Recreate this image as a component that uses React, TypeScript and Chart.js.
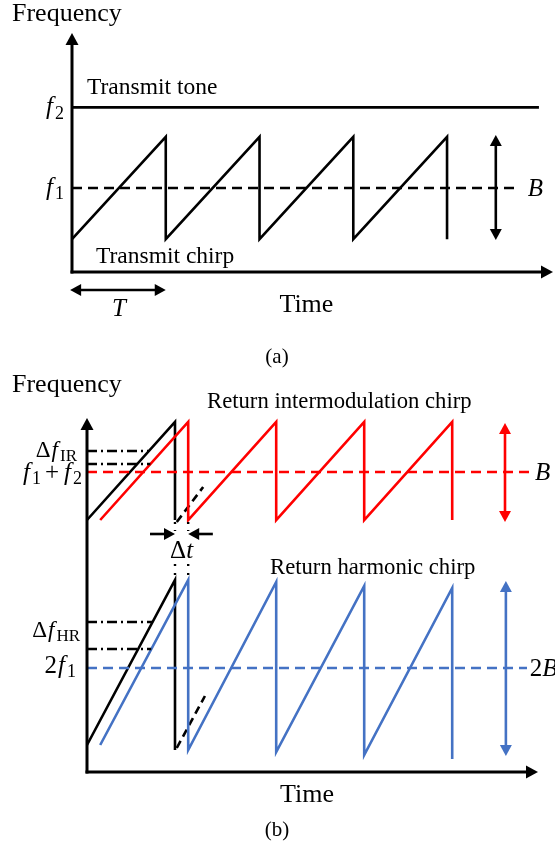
import React, { useEffect, useRef } from "react";
import { Chart, registerables } from "chart.js";
Chart.register(...registerables);

// ---------------- Panel (a) : time in units of T, frequency in units of f1 ----------------
const A_T_MAX = 5.13;
const A_F_MAX = 2.845;
const A_F1 = 1.0;
const A_F2 = 1.96;
const A_TONE_T = [0, 4.98];
const A_CHIRP_T = [0, 1, 1, 2, 2, 3, 3, 4, 4];
const A_CHIRP_F = [0.39, 1.61, 0.39, 1.61, 0.39, 1.61, 0.39, 1.61, 0.39];
const A_F1LINE_T = [0, 4.75];
const A_B_ARROW_T = 4.52;
const A_B_ARROW_F = [0.38, 1.63];
const A_T_ARROW_T = [-0.02, 1.0];
const A_T_ARROW_F = -0.214;

// ---------------- Panel (b) ----------------
const B_T_MAX = 5.125;
const B_F_MAX = 3.54;
// intermodulation part
const B_IM_CENTER = 3.0;
const B_TXU_T = [0, 1, 1];
const B_TXU_F = [2.52, 3.5, 2.52];
const B_TXU_DASH_T = [1.02, 1.32];
const B_TXU_DASH_F = [2.5, 2.85];
const B_IM_T = [0.15, 1.15, 1.15, 2.15, 2.15, 3.15, 3.15, 4.15, 4.15];
const B_IM_F = [2.52, 3.5, 2.52, 3.5, 2.52, 3.5, 2.52, 3.5, 2.52];
const B_IM_LINE_T = [0, 5.03];
const B_IM_ARROW_T = 4.75;
const B_IM_ARROW_F = [2.5, 3.49];
const B_DFIR_F = [3.21, 3.08];
const B_DFIR_T = [0.7, 0.72];
const B_DT_F = 2.38;
const B_DT_LEFT_T = [0.716, 1.0];
const B_DT_RIGHT_T = [1.43, 1.15];
const B_DELAY_T = [1.0, 1.15];
// harmonic part
const B_H_CENTER = 1.04;
const B_TXL_T = [0, 1, 1];
const B_TXL_F = [0.27, 1.92, 0.22];
const B_TXL_DASH_T = [1.02, 1.34];
const B_TXL_DASH_F = [0.24, 0.76];
const B_HR_T = [0.15, 1.15, 1.15, 2.15, 2.15, 3.15, 3.15, 4.15, 4.15];
const B_HR_F = [0.27, 1.92, 0.22, 1.9, 0.2, 1.86, 0.17, 1.84, 0.13];
const B_HR_LINE_T = [0, 5.0];
const B_HR_ARROW_T = 4.76;
const B_HR_ARROW_F = [0.16, 1.91];
const B_DFHR_F = [1.5, 1.23];
const B_DFHR_T = [0.745, 0.73];

const RED = "#ff0000";
const BLUE = "#4472c4";
const SERIF = '"Liberation Serif", "Times New Roman", serif';
const LW = 2.6;

type Part = { t: string; it?: boolean; sub?: boolean; gap?: number; pre?: number };

function rich(ctx: CanvasRenderingContext2D, parts: Part[], x: number, y: number, size: number, align: "left" | "right" | "center", color = "#000") {
  const fontFor = (p: Part) => `${p.it ? "italic " : ""}${p.sub ? Math.round(size * 0.72) : size}px ${SERIF}`;
  const widths = parts.map((p) => {
    ctx.font = fontFor(p);
    return ctx.measureText(p.t).width + (p.gap || 0) + (p.pre || 0);
  });
  const w = widths.reduce((a, b) => a + b, 0);
  let cx = align === "left" ? x : align === "right" ? x - w : x - w / 2;
  ctx.save();
  ctx.fillStyle = color;
  ctx.textBaseline = "alphabetic";
  ctx.textAlign = "left";
  parts.forEach((p, i) => {
    ctx.font = fontFor(p);
    ctx.fillText(p.t, cx + (p.pre || 0), p.sub ? y + size * 0.17 : y);
    cx += widths[i];
  });
  ctx.restore();
}

function text(ctx: CanvasRenderingContext2D, s: string, x: number, y: number, size: number, align: "left" | "center" = "left") {
  rich(ctx, [{ t: s }], x, y, size, align);
}

function arrow(ctx: CanvasRenderingContext2D, x1: number, y1: number, x2: number, y2: number, color: string, lw: number, both: boolean, hl = 12, hw = 6) {
  const a = Math.atan2(y2 - y1, x2 - x1);
  const c = Math.cos(a), s = Math.sin(a);
  const head = (x: number, y: number, cc: number, ss: number) => {
    ctx.beginPath();
    ctx.moveTo(x, y);
    ctx.lineTo(x - hl * cc + hw * ss, y - hl * ss - hw * cc);
    ctx.lineTo(x - hl * cc - hw * ss, y - hl * ss + hw * cc);
    ctx.closePath();
    ctx.fill();
  };
  ctx.save();
  ctx.strokeStyle = color;
  ctx.fillStyle = color;
  ctx.lineWidth = lw;
  ctx.setLineDash([]);
  ctx.beginPath();
  ctx.moveTo(both ? x1 + (hl - 2) * c : x1, both ? y1 + (hl - 2) * s : y1);
  ctx.lineTo(x2 - (hl - 2) * c, y2 - (hl - 2) * s);
  ctx.stroke();
  head(x2, y2, c, s);
  if (both) head(x1, y1, -c, -s);
  ctx.restore();
}

function seg(ctx: CanvasRenderingContext2D, x1: number, y1: number, x2: number, y2: number, dash: number[], lw = 2, color = "#000") {
  ctx.save();
  ctx.strokeStyle = color;
  ctx.lineWidth = lw;
  ctx.setLineDash(dash);
  ctx.beginPath();
  ctx.moveTo(x1, y1);
  ctx.lineTo(x2, y2);
  ctx.stroke();
  ctx.restore();
}

function ds(ts: number[], fs: number[], color: string, width: number, dash: number[] = []) {
  return {
    data: ts.map((t, i) => ({ x: t, y: fs[i] })),
    borderColor: color,
    backgroundColor: color,
    borderWidth: width,
    borderDash: dash,
    pointRadius: 0,
    showLine: true,
    fill: false,
    tension: 0,
    clip: false as any,
    borderCapStyle: "butt" as const,
    borderJoinStyle: "miter" as const,
  };
}

function baseOptions(xMax: number, yMax: number, padding: any) {
  return {
    responsive: false,
    animation: false as const,
    devicePixelRatio: 1,
    events: [] as any[],
    layout: { padding },
    plugins: { legend: { display: false }, tooltip: { enabled: false }, title: { display: false } },
    scales: {
      x: { type: "linear" as const, min: 0, max: xMax, display: false },
      y: { type: "linear" as const, min: 0, max: yMax, display: false },
    },
  };
}

function drawA(chart: any) {
  const ctx: CanvasRenderingContext2D = chart.ctx;
  const X = (t: number) => chart.scales.x.getPixelForValue(t);
  const Y = (f: number) => chart.scales.y.getPixelForValue(f);
  // axes
  arrow(ctx, X(0), Y(0) + 1.5, X(0), Y(A_F_MAX), "#000", 3, false, 12, 6.5);
  arrow(ctx, X(0) - 1.5, Y(0), X(A_T_MAX), Y(0), "#000", 3, false, 12, 6.5);
  // B arrow
  arrow(ctx, X(A_B_ARROW_T), Y(A_B_ARROW_F[0]), X(A_B_ARROW_T), Y(A_B_ARROW_F[1]), "#000", LW, true, 11, 6);
  // T arrow
  arrow(ctx, X(A_T_ARROW_T[0]), Y(A_T_ARROW_F), X(A_T_ARROW_T[1]), Y(A_T_ARROW_F), "#000", LW, true, 11, 6);
  // labels
  text(ctx, "Frequency", 12, 21, 26);
  text(ctx, "Transmit tone", X(0.16), Y(A_F2) - 13, 23.5);
  text(ctx, "Transmit chirp", X(0.256), Y(0) - 9, 23.5);
  text(ctx, "Time", X(2.5), Y(0) + 40, 26, "center");
  text(ctx, "(a)", 277, 363, 21, "center");
  rich(ctx, [{ t: "f", it: true, gap: 2 }, { t: "2", sub: true }], X(0) - 8, Y(A_F2) + 7, 25, "right");
  rich(ctx, [{ t: "f", it: true, gap: 2 }, { t: "1", sub: true }], X(0) - 8, Y(A_F1) + 7, 25, "right");
  rich(ctx, [{ t: "B", it: true }], X(4.86), Y(A_F1) + 8, 25, "left");
  rich(ctx, [{ t: "T", it: true }], X(0.5), Y(A_T_ARROW_F) + 26, 25, "center");
}

function drawB(chart: any) {
  const ctx: CanvasRenderingContext2D = chart.ctx;
  const X = (t: number) => chart.scales.x.getPixelForValue(t);
  const Y = (f: number) => chart.scales.y.getPixelForValue(f);
  arrow(ctx, X(0), Y(0) + 1.5, X(0), Y(B_F_MAX), "#000", 3, false, 12, 6.5);
  arrow(ctx, X(0) - 1.5, Y(0), X(B_T_MAX), Y(0), "#000", 3, false, 12, 6.5);
  arrow(ctx, X(B_IM_ARROW_T), Y(B_IM_ARROW_F[0]), X(B_IM_ARROW_T), Y(B_IM_ARROW_F[1]), RED, LW, true, 11, 6);
  arrow(ctx, X(B_HR_ARROW_T), Y(B_HR_ARROW_F[0]), X(B_HR_ARROW_T), Y(B_HR_ARROW_F[1]), BLUE, LW, true, 11, 6);
  // delta t arrows
  arrow(ctx, X(B_DT_LEFT_T[0]), Y(B_DT_F), X(B_DT_LEFT_T[1]), Y(B_DT_F), "#000", LW, false, 11, 6);
  arrow(ctx, X(B_DT_RIGHT_T[0]), Y(B_DT_F), X(B_DT_RIGHT_T[1]), Y(B_DT_F), "#000", LW, false, 11, 6);
  // dotted delay markers
  B_DELAY_T.forEach((t) => {
    seg(ctx, X(t), Y(2.5), X(t), Y(2.41), [2, 6], 2.4);
    seg(ctx, X(t), Y(2.08), X(t), Y(1.95), [2, 7], 2.4);
  });
  // labels
  text(ctx, "Frequency", 12, 22, 26);
  text(ctx, "Return intermodulation chirp", 207, 38, 22.7);
  text(ctx, "Return harmonic chirp", 270, 204, 22.7);
  text(ctx, "Time", X(2.5), Y(0) + 30, 26, "center");
  text(ctx, "(b)", 277, 466, 21, "center");
  rich(ctx, [{ t: "Δ", gap: 1 }, { t: "f", it: true, gap: 2 }, { t: "IR", sub: true }], X(0) - 10, Y(3.15), 23, "right");
  rich(
    ctx,
    [
      { t: "f", it: true, gap: 2 },
      { t: "1", sub: true, gap: 4 },
      { t: "+", gap: 5 },
      { t: "f", it: true, gap: 2 },
      { t: "2", sub: true },
    ],
    X(0) - 5,
    Y(B_IM_CENTER) + 8,
    25,
    "right"
  );
  rich(ctx, [{ t: "Δ" }, { t: "t", it: true }], X(1.075), Y(2.14), 25, "center");
  rich(ctx, [{ t: "Δ", gap: 1 }, { t: "f", it: true, gap: 2 }, { t: "HR", sub: true }], X(0) - 7, Y(1.35), 23, "right");
  rich(ctx, [{ t: "2", gap: 1 }, { t: "f", it: true, gap: 2 }, { t: "1", sub: true }], X(0) - 11, Y(B_H_CENTER) + 5, 25, "right");
  rich(ctx, [{ t: "B", it: true }], X(5.09), Y(B_IM_CENTER) + 8, 25, "left");
  rich(ctx, [{ t: "2" }, { t: "B", it: true }], X(5.03), Y(B_H_CENTER) + 8, 25, "left");
}

export default function App() {
  const refA = useRef<HTMLCanvasElement>(null);
  const refB = useRef<HTMLCanvasElement>(null);
  useEffect(() => {
    const chartA = new Chart(refA.current as HTMLCanvasElement, {
      type: "scatter",
      data: {
        datasets: [
          ds(A_TONE_T, [A_F2, A_F2], "#000", 2.8),
          ds(A_F1LINE_T, [A_F1, A_F1], "#000", LW, [10, 6]),
          ds(A_CHIRP_T, A_CHIRP_F, "#000", LW),
        ] as any,
      },
      options: baseOptions(A_T_MAX, A_F_MAX, { left: 72, right: 2, top: 33, bottom: 98 }) as any,
      plugins: [{ id: "decoA", afterDatasetsDraw: (c: any) => drawA(c) }],
    });
    const chartB = new Chart(refB.current as HTMLCanvasElement, {
      type: "scatter",
      data: {
        datasets: [
          ds(B_IM_LINE_T, [B_IM_CENTER, B_IM_CENTER], RED, LW, [10, 6]),
          ds(B_HR_LINE_T, [B_H_CENTER, B_H_CENTER], BLUE, LW, [10, 6]),
          ds([0, B_DFIR_T[0]], [B_DFIR_F[0], B_DFIR_F[0]], "#000", LW, [10, 4, 2, 4]),
          ds([0, B_DFIR_T[1]], [B_DFIR_F[1], B_DFIR_F[1]], "#000", LW, [10, 4, 2, 4]),
          ds([0, B_DFHR_T[0]], [B_DFHR_F[0], B_DFHR_F[0]], "#000", LW, [10, 4, 2, 4]),
          ds([0, B_DFHR_T[1]], [B_DFHR_F[1], B_DFHR_F[1]], "#000", LW, [10, 4, 2, 4]),
          ds(B_IM_T, B_IM_F, RED, LW),
          ds(B_HR_T, B_HR_F, BLUE, LW),
          ds(B_TXU_T, B_TXU_F, "#000", LW),
          ds(B_TXU_DASH_T, B_TXU_DASH_F, "#000", LW, [8, 5]),
          ds(B_TXL_T, B_TXL_F, "#000", LW),
          ds(B_TXL_DASH_T, B_TXL_DASH_F, "#000", LW, [8, 5]),
        ] as any,
      },
      options: baseOptions(B_T_MAX, B_F_MAX, { left: 87, right: 17, top: 48, bottom: 76 }) as any,
      plugins: [{ id: "decoB", afterDatasetsDraw: (c: any) => drawB(c) }],
    });
    return () => {
      chartA.destroy();
      chartB.destroy();
    };
  }, []);
  return (
    <div style={{ position: "absolute", left: 0, top: 0, width: 555, height: 848, background: "#fff", overflow: "hidden" }}>
      <canvas ref={refA} width={555} height={370} style={{ position: "absolute", left: 0, top: 0, width: 555, height: 370 }} />
      <canvas ref={refB} width={555} height={478} style={{ position: "absolute", left: 0, top: 370, width: 555, height: 478 }} />
    </div>
  );
}
